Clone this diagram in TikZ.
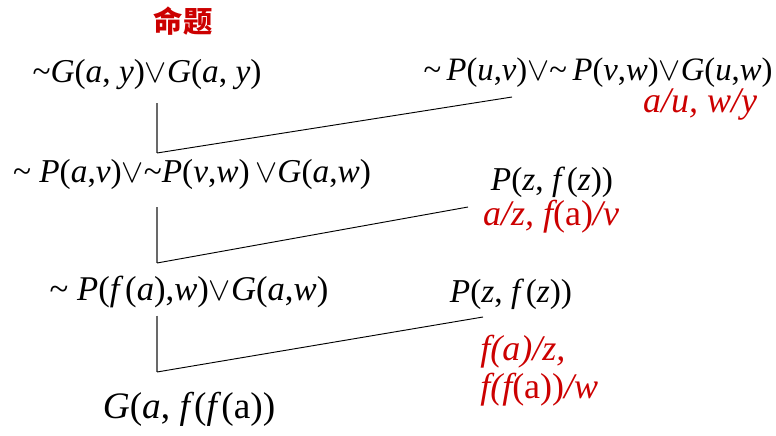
\documentclass[tikz,border=0pt]{standalone}
\usepackage{fontspec}
\setmainfont{Liberation Serif}
\newfontfamily\cjk{Noto Sans CJK SC}
\usetikzlibrary{positioning}
\definecolor{ResRed}{RGB}{204, 0, 0}
\definecolor{ResGray}{RGB}{105, 105, 105}

\newcommand{\nt}{\textasciitilde}
\newcommand{\orr}{$\vee$}

\begin{document}
\begin{tikzpicture}[x=0.75pt, y=-0.75pt,
    clause/.style={font=\fontsize{25}{28}\selectfont, inner sep=0pt, anchor=base},
    subst/.style={font=\fontsize{27}{30}\selectfont\itshape, text=ResRed, inner sep=0pt, anchor=base},
    stem/.style={draw=ResGray, line width=0.9pt},
    link/.style={draw=black, line width=0.7pt}]
  \useasboundingbox (0,0) rectangle (776,436);

  % title
  \node[font=\cjk\bfseries\fontsize{22}{24}\selectfont, text=ResRed] (title) at (183,21) {命题};

  % left column: resolvents
  \node[clause] (f1) at (147,82) {\nt\textit{G}(\textit{a}, \textit{y})\orr\textit{G}(\textit{a}, \textit{y})};
  \node[clause] (f2) at (192,182) {\nt{} \textit{P}(\textit{a},\textit{v})\orr\nt\textit{P}(\textit{v},\textit{w})\,\orr\textit{G}(\textit{a},\textit{w})};
  \node[clause, font=\fontsize{26}{29}\selectfont] (f3) at (189,300) {\nt{} \textit{P}(\textit{f\,}(\textit{a}),\textit{w})\orr\textit{G}(\textit{a},\textit{w})};
  \node[clause, font=\fontsize{28}{32}\selectfont] (f4) at (189,418) {\textit{G}(\textit{a}, \textit{f}(\textit{f}(a))};

  % right column: axioms and substitutions
  \node[clause, font=\fontsize{24.5}{28}\selectfont] (r1) at (598,80) {\nt\,\textit{P}(\textit{u},\textit{v})\orr\nt\,\textit{P}(\textit{v},\textit{w})\orr\textit{G}(\textit{u},\textit{w})};
  \node[subst] (s1) at (700,112) {a/u, w/y};
  \node[clause] (r2) at (552,190) {\textit{P}(\textit{z}, \textit{f\,}(\textit{z}))};
  \node[subst] (s2) at (551,225) {a/z, f\upshape(a)\itshape/v};
  \node[clause] (r3) at (511,302) {\textit{P}(\textit{z}, \textit{f\,}(\textit{z}))};
  \node[subst, anchor=base west] (s3) at (480,360) {f(a)/z,};
  \node[subst, anchor=base west] (s3b) at (480,398) {f(f\upshape(a))\itshape/w};

  % corners and free ends
  \coordinate (k1) at (157,153);
  \coordinate (k2) at (157,263);
  \coordinate (k3) at (157,372);
  \coordinate (e1) at (512,97);
  \coordinate (e2) at (468,207);
  \coordinate (e3) at (483,317);

  \draw[stem] (f1.south -| k1) ++(0,14) -- (k1);
  \draw[link] (k1) -- (e1);
  \draw[stem] (f2.south -| k2) ++(0,18) -- (k2);
  \draw[link] (k2) -- (e2);
  \draw[stem] (f3.south -| k3) ++(0,8) -- (k3);
  \draw[link] (k3) -- (e3);
\end{tikzpicture}
\end{document}
